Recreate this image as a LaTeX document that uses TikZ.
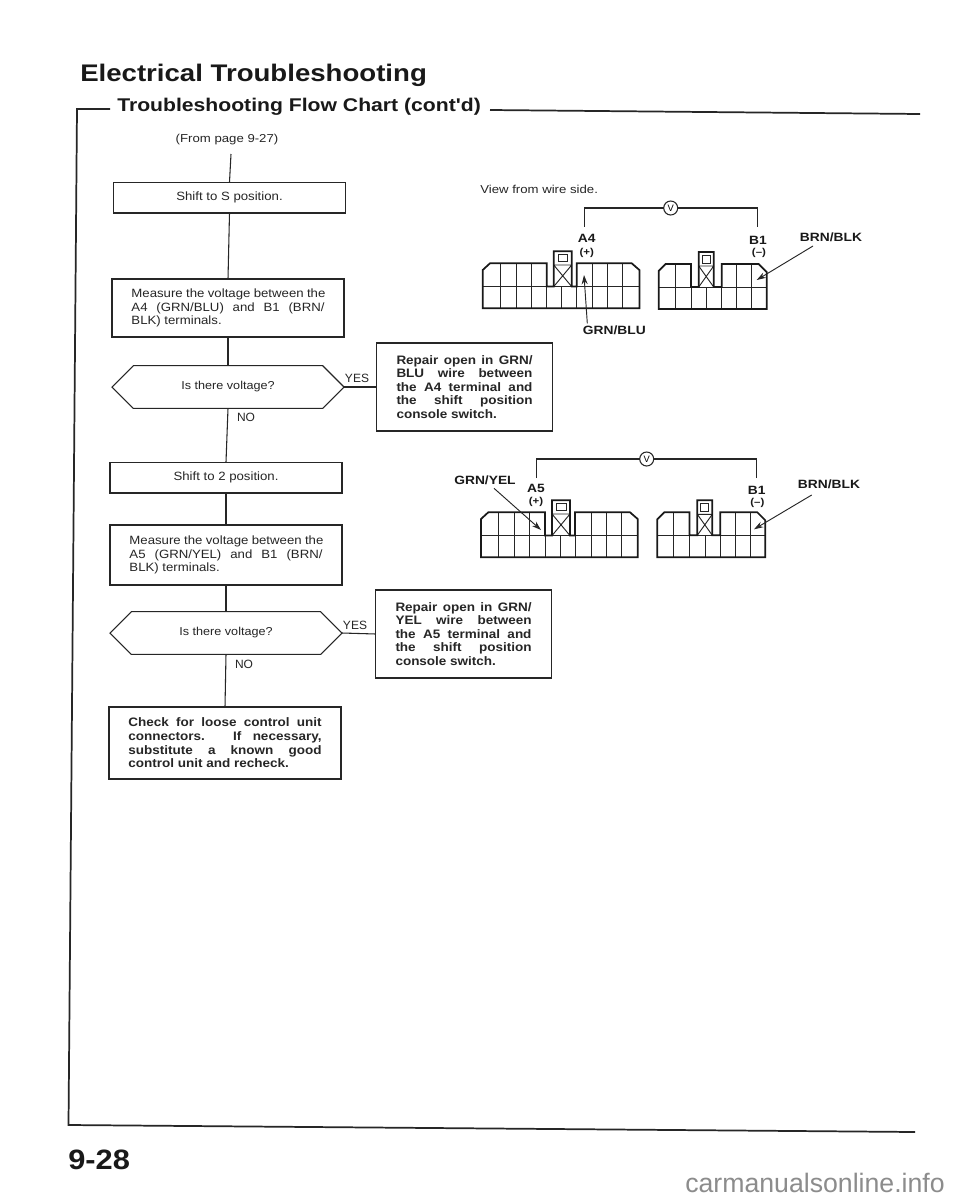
\documentclass[tikz,border=0pt]{standalone}
\usepackage{fontspec}
\setmainfont{Liberation Sans}
\newfontfamily\wideA[FakeStretch=1.1]{Liberation Sans}
\newfontfamily\wideB[FakeStretch=1.15]{Liberation Sans}
\usetikzlibrary{shapes.misc,arrows.meta}
\newcommand\fulline[1]{\hbox to \hsize{\spaceskip=.28em plus 1fil\relax #1}}
\newcommand\partline[1]{\hbox to \hsize{#1\hss}}
\newcommand\linesA[1]{\vbox{\hsize=144.8pt #1}}
\newcommand\linesB[1]{\vbox{\hsize=102pt #1}}
\tikzset{
  x=0.75pt,y=-0.75pt,
  frameline/.style={line width=1.3pt,black!85},
  link/.style={line width=0.8pt,black!85},
  inner/.style={line width=0.7pt,black!85},
  outer/.style={line width=1.3pt,black!90},
  arrowline/.style={line width=0.7pt,black!85,-{Stealth[length=7pt,width=4.5pt]}},
  boxbase/.style={draw=black!85,line width=0.8pt,minimum width=174pt,inner sep=0pt,outer sep=0pt,text=black!85},
  plainbox/.style={boxbase,font=\wideA\fontsize{9}{10.1}\selectfont},
  actbox/.style={boxbase,font=\wideA\fontsize{9.2}{10.2}\bfseries\selectfont},
  repbox/.style={boxbase,minimum width=131.5pt,font=\wideA\fontsize{9.2}{10.2}\bfseries\selectfont},
  hexbox/.style={draw=black!85,line width=0.8pt,shape=chamfered rectangle,chamfered rectangle xsep=15pt,chamfered rectangle ysep=12pt,
     chamfered rectangle corners={north west,north east,south west,south east},
     minimum width=174pt,minimum height=24pt,inner sep=0pt,outer sep=0pt,font=\wideA\fontsize{8.6}{10}\selectfont,text=black!85},
  small/.style={font=\wideB\fontsize{8.6}{10}\selectfont,text=black!85,inner sep=0pt},
  wirelabel/.style={font=\wideB\fontsize{9}{10}\bfseries\selectfont,text=black!90,inner sep=0pt},
  signlabel/.style={font=\wideB\fontsize{7.5}{9}\bfseries\selectfont,text=black!90,inner sep=0pt},
  ynlabel/.style={font=\fontsize{9}{10}\selectfont,text=black!85,inner sep=0pt},
  meter/.style={draw=black!85,line width=0.8pt,circle,minimum size=10.5pt,inner sep=0pt,outer sep=0pt,font=\fontsize{7}{8}\selectfont},
  connlong/.pic={
    \foreach \c in {17.3,33.3,48.3,110,125,140}{\draw[inner] (\c,0)--(\c,-45);}
    \foreach \c in {79}{\draw[inner] (\c,0)--(\c,-21.7);}
    \draw[inner] (0,-21.7)--(156.7,-21.7);
    \draw[inner] (71,-21.7)--(89,-43.3) (89,-21.7)--(71,-43.3) (71,-43.3)--(89,-43.3);
    \draw[inner] (75.7,-53.5) rectangle (85,-46.7);
    \draw[outer,line join=miter] (0,0)--(156.7,0)--(156.7,-38.3)--(149,-45)--(94,-45)--(94,-21.7)--(89,-21.7)--(89,-57)--(71,-57)--(71,-21.7)--(64,-21.7)--(64,-45)--(7.3,-45)--(0,-38.3)--cycle;
    \draw[inner] (64,0)--(64,-21.7) (94,0)--(94,-21.7);
  },
  connshort/.pic={
    \foreach \c in {16.3,78,93}{\draw[inner] (\c,0)--(\c,-45);}
    \foreach \c in {32.3,48,63}{\draw[inner] (\c,0)--(\c,-22);}
    \draw[inner] (0,-22)--(108,-22);
    \draw[inner] (40,-22)--(55,-43) (55,-22)--(40,-43) (40,-43)--(55,-43);
    \draw[inner] (43.3,-53.5) rectangle (51.5,-45.5);
    \draw[outer,line join=miter] (0,0)--(108,0)--(108,-37)--(100,-45)--(63,-45)--(63,-22)--(55,-22)--(55,-57)--(40,-57)--(40,-22)--(32.3,-22)--(32.3,-45)--(7,-45)--(0,-38)--cycle;
  }
}
\begin{document}
\begin{tikzpicture}
\useasboundingbox (0,0) rectangle (960,1200);
\fill[white] (0,0) rectangle (960,1200);

% headings and frame
\node[anchor=west,inner sep=0pt,font=\wideB\fontsize{18}{20}\bfseries\selectfont,text=black!90] (title) at (80,75) {Electrical Troubleshooting};
\node[anchor=west,inner sep=0pt,font=\wideB\fontsize{13.8}{16}\bfseries\selectfont,text=black!90] (sub) at (117,107) {Troubleshooting Flow Chart (cont'd)};
\coordinate (fa) at (110,109);
\coordinate (fb) at (77,109);
\coordinate (fc) at (68.5,1125);
\coordinate (fd) at (915,1132);
\coordinate (fe) at (490,110);
\coordinate (ff) at (920,114);
\draw[frameline,line join=miter] (fa)--(fb)--(fc)--(fd);
\draw[frameline] (fe)--(ff);
\node[anchor=west,inner sep=0pt,font=\wideA\fontsize{21}{24}\bfseries\selectfont,text=black!90] (pg) at (68,1160) {9-28};
\node[anchor=east,inner sep=0pt,font=\fontsize{20}{24}\selectfont,text=black!45] (wm) at (945,1183) {carmanualsonline.info};

% flow chart
\node[small] (from) at (227,140) {(From page 9-27)};
\coordinate (start) at (231,154);
\node[plainbox,minimum height=23.2pt] (s1) at (229.5,197.5) {Shift to S position.};
\node[plainbox,minimum height=43.5pt] (m1) at (228,308) {\linesA{%
\fulline{Measure the voltage between the}\fulline{A4 (GRN/BLU) and B1 (BRN/}\partline{BLK) terminals.}}};
\node[hexbox] (d1) at (228,387) {Is there voltage?};
\node[repbox,minimum height=66pt] (r1) at (464.5,387) {\linesB{%
\fulline{Repair open in GRN/}\fulline{BLU wire between}\fulline{the A4 terminal and}\fulline{the shift position}\partline{console switch.}}};
\node[plainbox,minimum height=23.2pt] (s2) at (226,477.5) {Shift to 2 position.};
\node[plainbox,minimum height=45pt] (m2) at (226,555) {\linesA{%
\fulline{Measure the voltage between the}\fulline{A5 (GRN/YEL) and B1 (BRN/}\partline{BLK) terminals.}}};
\node[hexbox] (d2) at (226,633) {Is there voltage?};
\node[repbox,minimum height=66pt] (r2) at (463.5,634) {\linesB{%
\fulline{Repair open in GRN/}\fulline{YEL wire between}\fulline{the A5 terminal and}\fulline{the shift position}\partline{console switch.}}};
\node[actbox,minimum height=54pt] (c1) at (225,743) {\linesA{%
\fulline{Check for loose control unit}\fulline{connectors. If necessary,}\fulline{substitute a known good}\partline{control unit and recheck.}}};
\node[ynlabel] (y1) at (357,378) {YES};
\node[ynlabel] (n1) at (246,417) {NO};
\node[ynlabel] (y2) at (355,625) {YES};
\node[ynlabel] (n2) at (244,664) {NO};
\draw[link] (start)--(s1.north);
\draw[link] (s1.south)--(m1.north);
\draw[link] (m1.south)--(d1.north);
\draw[link] (d1.south)--(s2.north);
\draw[link] (s2.south)--(m2.north);
\draw[link] (m2.south)--(d2.north);
\draw[link] (d2.south)--(c1.north);
\draw[link] (d1.east)--(r1.west);
\draw[link] (d2.east)--(r2.west);

% first measurement
\node[small,anchor=west] (view) at (480,189) {View from wire side.};
\pic at (482.7,308.3) {connlong};
\pic at (658.7,309) {connshort};
\node[meter] (v1) at (670.7,208) {V};
\coordinate (wa) at (584.3,226.7);
\coordinate (wb) at (757.3,226.7);
\draw[link] (wa) |- (v1.west);
\draw[link] (wb) |- (v1.east);
\node[wirelabel] (a4) at (586.7,238) {A4};
\node[signlabel] (pa) at (586.7,252.7) {(+)};
\node[wirelabel] (b1) at (758,240) {B1};
\node[signlabel] (ma) at (759,253) {(–)};
\node[wirelabel] (bb1) at (831,237) {BRN/BLK};
\node[wirelabel] (gb) at (614.3,330.7) {GRN/BLU};
\coordinate (ga) at (587.3,323.3);
\coordinate (gt) at (584,275);
\coordinate (ba) at (813,246);
\coordinate (bt) at (756.7,280);
\draw[arrowline] (ga)--(gt);
\draw[arrowline] (ba)--(bt);

% second measurement
\pic at (481,557.3) {connlong};
\pic at (657.3,557.3) {connshort};
\node[meter] (v2) at (646.7,459) {V};
\coordinate (wc) at (536.7,478);
\coordinate (wd) at (756.7,478);
\draw[link] (wc) |- (v2.west);
\draw[link] (wd) |- (v2.east);
\node[wirelabel] (gy) at (485,480.7) {GRN/YEL};
\node[wirelabel] (a5) at (536,488) {A5};
\node[signlabel] (pb) at (536,501.7) {(+)};
\node[wirelabel] (b2) at (756.7,490) {B1};
\node[signlabel] (mb) at (757.3,502.7) {(–)};
\node[wirelabel] (bb2) at (829,484) {BRN/BLK};
\coordinate (ya) at (494,488.3);
\coordinate (yt) at (541,530);
\coordinate (bc) at (811.7,495);
\coordinate (bu) at (754,529.3);
\draw[arrowline] (ya)--(yt);
\draw[arrowline] (bc)--(bu);
\end{tikzpicture}
\end{document}
